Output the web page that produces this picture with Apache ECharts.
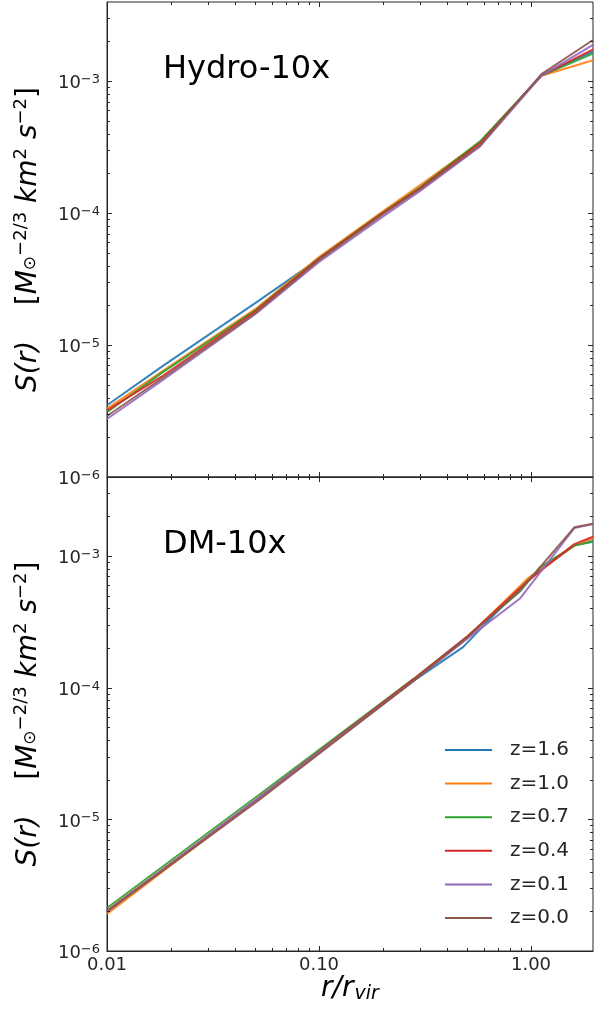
<!DOCTYPE html>
<html><head><meta charset="utf-8">
<script src="https://cdn.jsdelivr.net/npm/echarts@6/dist/echarts.min.js"></script>
<style>html,body{margin:0;padding:0;background:#fff;}#c{width:595px;height:1015px;}</style>
</head><body><div id="c"></div>
<script>
// ---------------- data ----------------
const seriesNames = ['z=1.6', 'z=1.0', 'z=0.7', 'z=0.4', 'z=0.1', 'z=0.0'];
const seriesColors = ['#1f77b4', '#ff7f0e', '#2ca02c', '#d62728', '#9467bd', '#8c564b'];
const panelTitles = ['Hydro-10x', 'DM-10x'];
const xTickLabels = ['0.01', '0.10', '1.00'];   // labels for 10^-2, 10^-1, 10^0
const xRange = [0.01, 1.96];
const yRange = [1e-6, 3.98e-3];

// Hydro-10x panel (shared radii)
const hydroR = [0.01, 0.018, 0.05, 0.1, 0.2, 0.3, 0.575, 1.12, 1.96];
const hydroS_z16 = [3.5e-6, 6.8e-6, 2.08e-5, 4.5e-5, 1.0e-4, 1.55e-4, 3.45e-4, 1.11e-3, 1.68e-3];
const hydroS_z10 = [3.3e-6, 6.24e-6, 1.87e-5, 4.65e-5, 1.03e-4, 1.63e-4, 3.45e-4, 1.10e-3, 1.44e-3];
const hydroS_z07 = [3.1e-6, 6.1e-6, 1.83e-5, 4.55e-5, 1.01e-4, 1.57e-4, 3.5e-4, 1.10e-3, 1.62e-3];
const hydroS_z04 = [3.2e-6, 5.73e-6, 1.8e-5, 4.5e-5, 1.0e-4, 1.55e-4, 3.38e-4, 1.10e-3, 1.74e-3];
const hydroS_z01 = [2.75e-6, 5.33e-6, 1.71e-5, 4.26e-5, 9.4e-5, 1.47e-4, 3.2e-4, 1.10e-3, 1.88e-3];
const hydroS_z00 = [2.9e-6, 5.53e-6, 1.74e-5, 4.4e-5, 9.8e-5, 1.52e-4, 3.26e-4, 1.13e-3, 2.05e-3];

// DM-10x panel (radii differ per redshift)
const dmR_z16 = [0.01, 0.052, 0.278, 0.478, 1.0, 1.6, 1.96];
const dmS_z16 = [1.98e-6, 1.45e-5, 1.12e-4, 2.03e-4, 7.0e-4, 1.2e-3, 1.3e-3];
const dmR_z10 = [0.01, 0.052, 0.278, 0.5, 0.97, 1.6, 1.96];
const dmS_z10 = [1.91e-6, 1.44e-5, 1.15e-4, 2.4e-4, 6.8e-4, 1.2e-3, 1.36e-3];
const dmR_z07 = [0.01, 0.052, 0.278, 0.5, 0.89, 1.1, 1.6, 1.96];
const dmS_z07 = [2.12e-6, 1.53e-5, 1.16e-4, 2.45e-4, 5.4e-4, 8.2e-4, 1.2e-3, 1.28e-3];
const dmR_z04 = [0.01, 0.052, 0.278, 0.5, 0.97, 1.6, 1.96];
const dmS_z04 = [2.02e-6, 1.46e-5, 1.15e-4, 2.45e-4, 6.5e-4, 1.23e-3, 1.4e-3];
const dmR_z01 = [0.01, 0.052, 0.278, 0.5, 0.89, 1.6, 1.96];
const dmS_z01 = [2.0e-6, 1.45e-5, 1.12e-4, 2.35e-4, 4.78e-4, 1.63e-3, 1.75e-3];
const dmR_z00 = [0.01, 0.052, 0.278, 0.5, 0.89, 1.6, 1.96];
const dmS_z00 = [2.0e-6, 1.40e-5, 1.12e-4, 2.4e-4, 5.5e-4, 1.65e-3, 1.76e-3];

// ---------------- build ----------------
const FONT = 'DejaVu Sans';
const INK = '#262626';
const zip = (r, s) => r.map((v, i) => [v, s[i]]);
const hydroData = [hydroS_z16, hydroS_z10, hydroS_z07, hydroS_z04, hydroS_z01, hydroS_z00].map(s => zip(hydroR, s));
const dmData = [zip(dmR_z16, dmS_z16), zip(dmR_z10, dmS_z10), zip(dmR_z07, dmS_z07),
                zip(dmR_z04, dmS_z04), zip(dmR_z01, dmS_z01), zip(dmR_z00, dmS_z00)];

const isDecade = v => { const e = Math.log10(v); return Math.abs(e - Math.round(e)) < 1e-4; };

// tick positions (major decades + minor 2..9) from the axis ranges
function tickData() {
  const d = [];
  for (let e = -7; e <= 1; e++) {
    for (let m = 1; m <= 9; m++) {
      const v = m * Math.pow(10, e);
      if (v >= xRange[0] * 0.9999 && v <= xRange[1]) d.push([v, yRange[0], m === 1 ? 0 : 1]);
      if (v >= yRange[0] * 0.9999 && v <= yRange[1]) d.push([xRange[0], v, m === 1 ? 2 : 3]);
    }
  }
  return d;
}
function renderTick(params, api) {
  const cs = params.coordSys;
  const p = api.coord([api.value(0), api.value(1)]);
  const kind = api.value(2);
  const L = (kind === 0 || kind === 2) ? 5 : 3;
  const st = { stroke: INK, lineWidth: 1 };
  if (kind < 2) {
    const x = Math.round(p[0]) + 0.5;
    return { type: 'group', children: [
      { type: 'line', shape: { x1: x, y1: cs.y + cs.height, x2: x, y2: cs.y + cs.height - L }, style: st },
      { type: 'line', shape: { x1: x, y1: cs.y, x2: x, y2: cs.y + L }, style: st }
    ]};
  } else {
    const y = Math.round(p[1]) + 0.5;
    return { type: 'group', children: [
      { type: 'line', shape: { x1: cs.x, y1: y, x2: cs.x + L, y2: y }, style: st },
      { type: 'line', shape: { x1: cs.x + cs.width, y1: y, x2: cs.x + cs.width - L, y2: y }, style: st }
    ]};
  }
}

const yNameRich = {
  i: { fontFamily: FONT, fontStyle: 'italic', fontSize: 28, color: '#000', lineHeight: 30, padding: [10, 0, 0, 0] },
  n: { fontFamily: FONT, fontSize: 28, color: '#000', lineHeight: 30, padding: [10, 0, 0, 0] },
  sup: { fontFamily: FONT, fontSize: 18, color: '#000', lineHeight: 20, verticalAlign: 'top', padding: [3, 0, 0, 0] },
  sub: { fontFamily: FONT, fontSize: 17, color: '#000', lineHeight: 18, verticalAlign: 'bottom' }
};
const yName = '{i|S(r)}{n|    [}{i|M}{sub|⊙}{sup|−2/3}{i| km}{sup|2}{i| s}{sup|−2}{n|]}';

function makeGrid(i) {
  return i === 0
    ? { left: 107, right: 2, top: 2, height: 475, show: true, borderColor: INK, borderWidth: 1, outerBoundsMode: 'none' }
    : { left: 107, right: 2, top: 477, height: 474, show: true, borderColor: INK, borderWidth: 1, outerBoundsMode: 'none' };
}
function makeX(i) {
  return {
    type: 'log', logBase: 10, gridIndex: i, min: xRange[0], max: xRange[1],
    axisLine: { show: true, lineStyle: { color: INK, width: 1 } },
    axisTick: { show: false }, splitLine: { show: false }, minorTick: { show: false },
    axisLabel: {
      show: i === 1, margin: 5, fontFamily: FONT, fontSize: 18, color: INK,
      showMinLabel: true, showMaxLabel: true, hideOverlap: false,
      formatter: v => isDecade(v) ? xTickLabels[Math.round(Math.log10(v)) + 2] : ''
    },
    name: i === 1 ? '{i|r/r}{sub|vir}' : '', nameLocation: 'middle', nameGap: 22,
    nameTextStyle: { rich: {
      i: { fontFamily: FONT, fontStyle: 'italic', fontSize: 28, color: '#000', lineHeight: 30 },
      sub: { fontFamily: FONT, fontStyle: 'italic', fontSize: 19, color: '#000', lineHeight: 20, verticalAlign: 'bottom', padding: [0, 0, 0, 1] }
    }}
  };
}
function makeY(i) {
  return {
    type: 'log', logBase: 10, gridIndex: i, min: yRange[0], max: yRange[1],
    axisLine: { show: true, lineStyle: { color: INK, width: 1 } },
    axisTick: { show: false }, splitLine: { show: false }, minorTick: { show: false },
    axisLabel: {
      margin: 7, showMinLabel: true, showMaxLabel: true, hideOverlap: false,
      formatter: v => isDecade(v) ? '{b|10}{s|−' + (-Math.round(Math.log10(v))) + '}' : '',
      rich: {
        b: { fontFamily: FONT, fontSize: 18, color: INK, lineHeight: 20, padding: [5, 0, 0, 0] },
        s: { fontFamily: FONT, fontSize: 13, color: INK, lineHeight: 16, verticalAlign: 'top', padding: [2, 0, 0, 0] }
      }
    },
    name: yName, nameLocation: 'middle', nameRotate: 90, nameGap: 68,
    nameTextStyle: { rich: yNameRich }
  };
}

const series = [];
[hydroData, dmData].forEach((panel, p) => {
  panel.forEach((d, k) => {
    series.push({
      type: 'line', name: seriesNames[k], xAxisIndex: p, yAxisIndex: p, data: d,
      showSymbol: false, symbol: 'none', silent: true, z: 3 + k,
      lineStyle: { width: 2, color: seriesColors[k], opacity: 0.9 },
      itemStyle: { color: seriesColors[k] }
    });
  });
  series.push({
    type: 'custom', xAxisIndex: p, yAxisIndex: p, data: tickData(), renderItem: renderTick,
    silent: true, z: 20, clip: false, encode: { x: 0, y: 1 }
  });
});

const chart = echarts.init(document.getElementById('c'), null, { renderer: 'canvas' });
chart.setOption({
  animation: false,
  backgroundColor: '#fff',
  grid: [makeGrid(0), makeGrid(1)],
  xAxis: [makeX(0), makeX(1)],
  yAxis: [makeY(0), makeY(1)],
  legend: {
    data: seriesNames, orient: 'vertical', left: 445, top: 739, padding: 0,
    icon: 'rect', itemWidth: 47, itemHeight: 2, itemGap: 11.6,
    textStyle: { fontFamily: FONT, fontSize: 20, color: INK, lineHeight: 22, padding: [0, 0, 0, 13] },
    selectedMode: false
  },
  graphic: panelTitles.map((t, i) => ({
    type: 'text', x: 163, y: i === 0 ? 70 : 545,
    style: { text: t, fontFamily: FONT, fontSize: 32, fill: '#000', verticalAlign: 'middle' }
  })),
  series: series
});
</script>
</body></html>
